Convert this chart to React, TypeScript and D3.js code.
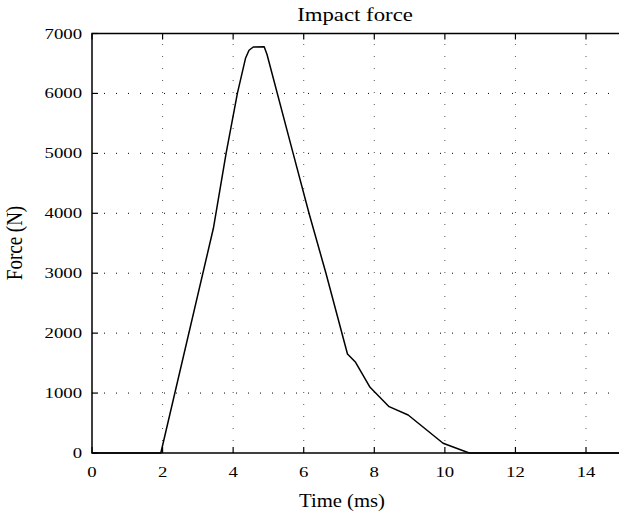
import React from "react";
import * as d3 from "d3";

const timeMs = [0, 1.95, 3.44, 3.8, 4.12, 4.35, 4.45, 4.57, 4.88, 4.96, 5.7, 6.15, 6.63, 7.24, 7.47, 7.88, 8.42, 8.96, 9.95, 10.69, 15];
const forceN = [0, 0, 3750, 5000, 6000, 6586, 6720, 6775, 6780, 6650, 5000, 4000, 3000, 1652, 1513, 1096, 773, 634, 162, 0, 0];
const xTicks = [0, 2, 4, 6, 8, 10, 12, 14];
const yTicks = [0, 1000, 2000, 3000, 4000, 5000, 6000, 7000];
const title = "Impact force";
const xLabel = "Time (ms)";
const yLabel = "Force (N)";

const W = 619;
const H = 516;
const L = 92, R = 621.3, T = 33.5, B = 453;

export default function App() {
  const x = d3.scaleLinear().domain([0, 15]).range([L, R]);
  const y = d3.scaleLinear().domain([0, 7000]).range([B, T]);
  const pts: [number, number][] = timeMs.map((t, i) => [t, forceN[i]]);
  const line = d3.line<[number, number]>().x(d => x(d[0])).y(d => y(d[1]));
  const font = "'Liberation Serif', 'Times New Roman', serif";
  const sx = 1.25;
  return (
    <svg width={W} height={H} style={{ position: "absolute", left: 0, top: 0, background: "#fff" }} fontFamily={font}>
      <rect x={0} y={0} width={W} height={H} fill="#fff" />
      {/* grid */}
      {xTicks.filter(t => t > 0).map(t => (
        <line key={"gx" + t} x1={x(t)} x2={x(t)} y1={B} y2={T} stroke="#555" strokeWidth={1} strokeDasharray="1,11" />
      ))}
      {yTicks.filter(t => t > 0 && t < 7000).map(t => (
        <line key={"gy" + t} x1={L} x2={R} y1={y(t)} y2={y(t)} stroke="#000" strokeWidth={1} strokeDasharray="1,11" />
      ))}
      {/* ticks */}
      {xTicks.map(t => (
        <g key={"tx" + t}>
          <line x1={x(t)} x2={x(t)} y1={B} y2={B - 6} stroke="#000" strokeWidth={1.2} />
          <line x1={x(t)} x2={x(t)} y1={T} y2={T + 6} stroke="#000" strokeWidth={1.2} />
        </g>
      ))}
      {yTicks.map(t => (
        <line key={"ty" + t} x1={L} x2={L + 6} y1={y(t)} y2={y(t)} stroke="#000" strokeWidth={1.2} />
      ))}
      {/* frame */}
      <rect x={L} y={T} width={R - L} height={B - T} fill="none" stroke="#000" strokeWidth={1.5} />
      {/* data */}
      <path d={line(pts) || ""} fill="none" stroke="#000" strokeWidth={1.5} strokeLinejoin="round" />
      {/* tick labels */}
      {xTicks.map(t => (
        <text key={"lx" + t} transform={`translate(${x(t)},477) scale(${sx},1)`} textAnchor="middle" fontSize={15} fill="#000">{t}</text>
      ))}
      {yTicks.map(t => (
        <text key={"ly" + t} transform={`translate(${L - 10},${y(t) + 5}) scale(${sx},1)`} textAnchor="end" fontSize={15} fill="#000">{t}</text>
      ))}
      {/* titles */}
      <text transform={`translate(355,21) scale(1.2,1)`} textAnchor="middle" fontSize={19} fill="#000">{title}</text>
      <text transform={`translate(342,507) scale(1.15,1)`} textAnchor="middle" fontSize={18} fill="#000">{xLabel}</text>
      <text transform={`translate(22,243) scale(1.2,1) rotate(-90)`} textAnchor="middle" fontSize={19} fill="#000">{yLabel}</text>
    </svg>
  );
}
